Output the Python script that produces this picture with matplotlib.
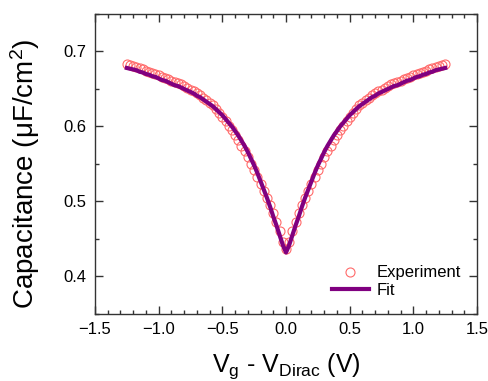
import matplotlib
matplotlib.use("Agg")
import matplotlib.pyplot as plt
from matplotlib.ticker import MultipleLocator

plt.rcParams['font.family'] = ['Liberation Sans', 'DejaVu Sans']
plt.rcParams['mathtext.default'] = 'regular'

# gate voltage relative to Dirac point (V), 0.025 V steps
v_half = [0.000, 0.025, 0.050, 0.075, 0.100, 0.125, 0.150, 0.175, 0.200, 0.225,
          0.250, 0.275, 0.300, 0.325, 0.350, 0.375, 0.400, 0.425, 0.450, 0.475,
          0.500, 0.525, 0.550, 0.575, 0.600, 0.625, 0.650, 0.675, 0.700, 0.725,
          0.750, 0.775, 0.800, 0.825, 0.850, 0.875, 0.900, 0.925, 0.950, 0.975,
          1.000, 1.025, 1.050, 1.075, 1.100, 1.125, 1.150, 1.175, 1.200, 1.225,
          1.250]

# measured capacitance (uF/cm^2), v >= 0 branch
exp_half = [0.436, 0.446, 0.460, 0.473, 0.484, 0.495, 0.505, 0.514, 0.523, 0.533,
            0.542, 0.550, 0.559, 0.567, 0.574, 0.582, 0.588, 0.595, 0.601, 0.607,
            0.613, 0.618, 0.623, 0.628, 0.631, 0.635, 0.638, 0.642, 0.644, 0.647,
            0.649, 0.651, 0.654, 0.656, 0.658, 0.659, 0.661, 0.663, 0.665, 0.666,
            0.668, 0.670, 0.671, 0.673, 0.674, 0.676, 0.678, 0.679, 0.681, 0.682,
            0.683]

# fitted capacitance, v >= 0 branch
fit_half = [0.432, 0.442, 0.455, 0.468, 0.480, 0.493, 0.505, 0.516, 0.527, 0.538,
            0.548, 0.557, 0.566, 0.574, 0.581, 0.588, 0.594, 0.600, 0.605, 0.610,
            0.615, 0.619, 0.623, 0.627, 0.630, 0.633, 0.636, 0.639, 0.641, 0.644,
            0.646, 0.648, 0.650, 0.652, 0.654, 0.655, 0.657, 0.659, 0.661, 0.662,
            0.664, 0.666, 0.667, 0.669, 0.670, 0.672, 0.673, 0.675, 0.676, 0.677,
            0.678]

# curve is symmetric about the Dirac point
v = [-x for x in v_half[:0:-1]] + v_half
c_exp = exp_half[:0:-1] + exp_half
c_fit = fit_half[:0:-1] + fit_half

fig = plt.figure(figsize=(4.89, 3.81), dpi=100)
ax = fig.add_axes([0.1943, 0.1759, 0.7812, 0.7874])

ax.plot(v, c_exp, 'o', mfc='none', mec='#ff6a6a', mew=0.8, ms=6.5, label='Experiment')
ax.plot(v, c_fit, '-', color='#800080', lw=3, label='Fit')

ax.set_xlim(-1.5, 1.5)
ax.set_ylim(0.35, 0.75)
ax.xaxis.set_minor_locator(MultipleLocator(0.1))
ax.yaxis.set_minor_locator(MultipleLocator(0.05))
ax.set_yticks([0.4, 0.5, 0.6, 0.7])
ax.set_xticks([-1.5, -1.0, -0.5, 0.0, 0.5, 1.0, 1.5])

for s in ax.spines.values():
    s.set_linewidth(1.0)
    s.set_color('#333333')
ax.tick_params(which='both', direction='in', top=True, right=True, colors='#333333',
               labelcolor='black', labelsize=12, width=1.0)
ax.tick_params(which='major', length=6, pad=6)
ax.tick_params(which='minor', length=3)

ax.set_xlabel('V$_g$ - V$_{Dirac}$ (V)', fontsize=18)
ax.set_ylabel('Capacitance (\u03bcF/cm$^2$)', fontsize=20)
ax.xaxis.set_label_coords(0.5, -0.125)
ax.yaxis.set_label_coords(-0.139, 0.467)

ax.legend(loc='lower right', bbox_to_anchor=(0.985, 0.02), frameon=False, fontsize=12,
          handlelength=2.2, handletextpad=0.5, labelspacing=0.15, borderaxespad=0.2)

fig.savefig('out.png', dpi=100)
